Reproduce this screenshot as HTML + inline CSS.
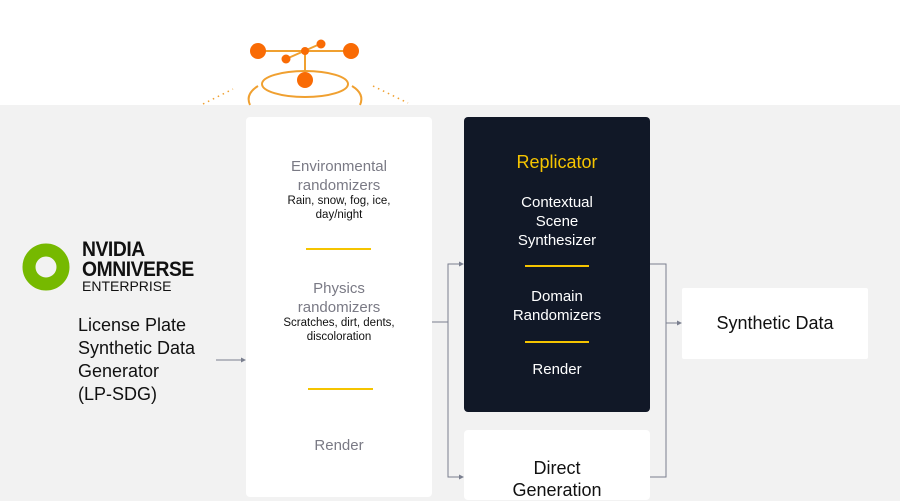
<!DOCTYPE html>
<html><head><meta charset="utf-8"><style>
body{margin:0;width:900px;height:491px;overflow:hidden;background:#f2f2f2;font-family:"Liberation Sans",sans-serif;position:relative}
.top{position:absolute;left:0;top:0;width:900px;height:105px;background:#fff}
.box{position:absolute;border-radius:4px;text-align:center}
.c{position:absolute;left:0;width:100%;text-align:center}
.y{position:absolute;height:3px;background:#f5c400}
</style></head><body>
<div class="top"></div>
<svg width="900" height="491" style="position:absolute;left:0;top:0">
<g stroke="#f0a030" stroke-width="2" fill="none">
<line x1="258" y1="51" x2="351" y2="51"/>
<line x1="286" y1="59" x2="320" y2="44"/>
<line x1="305" y1="51" x2="305" y2="72"/>
<ellipse cx="305" cy="84" rx="43" ry="13"/>
<path d="M258 86 Q245 94 250 105"/><path d="M352 86 Q365 94 360 105"/>
</g>
<g fill="#f96b05"><circle cx="258" cy="51" r="8"/><circle cx="351" cy="51" r="8"/><circle cx="321" cy="44" r="4.5"/><circle cx="286" cy="59" r="4.5"/><circle cx="305" cy="51" r="4"/><circle cx="305" cy="80" r="8"/></g>
<g stroke="#f0a030" stroke-width="1.5" stroke-dasharray="1.5 4"><line x1="203" y1="104" x2="233" y2="89"/><line x1="373" y1="86" x2="408" y2="103"/></g>
<g stroke="#7a7f8f" stroke-width="1" fill="none">
<line x1="216" y1="360" x2="244" y2="360"/>
<line x1="432" y1="322" x2="448" y2="322"/>
<polyline points="462,264 448,264 448,477 462,477"/>
<polyline points="650,264 666,264 666,477 650,477"/>
<line x1="666" y1="323" x2="680" y2="323"/>
</g>
<g fill="#7a7f8f"><path d="M246 360l-5-2.5v5z"/><path d="M464 264l-5-2.5v5z"/><path d="M464 477l-5-2.5v5z"/><path d="M682 323l-5-2.5v5z"/></g>
<circle cx="46" cy="267" r="17" fill="none" stroke="#76b900" stroke-width="13"/>
</svg>
<div style="position:absolute;left:82;left:82px;top:240px;font-weight:bold;font-size:21px;line-height:20px;color:#111;letter-spacing:-0.5px;transform:scaleX(0.92);transform-origin:left">NVIDIA<br>OMNIVERSE</div>
<div style="position:absolute;left:82px;top:278px;font-size:14px;color:#111">ENTERPRISE</div>
<div style="position:absolute;left:78px;top:314px;font-size:18px;line-height:23px;color:#111">License Plate<br>Synthetic Data<br>Generator<br>(LP-SDG)</div>
<div class="box" style="left:246px;top:117px;width:186px;height:380px;background:#fff">
<div class="c" style="top:40px;font-size:15px;line-height:19px;color:#7a7a85">Environmental<br>randomizers</div>
<div class="c" style="top:77px;font-size:11.5px;line-height:14px;color:#111">Rain, snow, fog, ice,<br>day/night</div>
<div class="y" style="left:60px;top:131px;width:65px;height:2px"></div>
<div class="c" style="top:162px;font-size:15px;line-height:19px;color:#7a7a85">Physics<br>randomizers</div>
<div class="c" style="top:199px;font-size:11.5px;line-height:14px;color:#111">Scratches, dirt, dents,<br>discoloration</div>
<div class="y" style="left:62px;top:271px;width:65px;height:2px"></div>
<div class="c" style="top:320px;font-size:15px;color:#7a7a85">Render</div>
</div>
<div class="box" style="left:464px;top:117px;width:186px;height:295px;background:#111827">
<div class="c" style="top:35px;font-size:18px;color:#f5c400">Replicator</div>
<div class="c" style="top:76px;font-size:15px;line-height:19px;color:#fff">Contextual<br>Scene<br>Synthesizer</div>
<div class="y" style="left:61px;top:148px;width:64px;height:2px"></div>
<div class="c" style="top:170px;font-size:15px;line-height:19px;color:#fff">Domain<br>Randomizers</div>
<div class="y" style="left:61px;top:224px;width:64px;height:2px"></div>
<div class="c" style="top:244px;font-size:15px;color:#fff">Render</div>
</div>
<div class="box" style="left:464px;top:430px;width:186px;height:70px;background:#fff">
<div class="c" style="top:27px;font-size:18px;line-height:22px;color:#111">Direct<br>Generation</div>
</div>
<div class="box" style="left:682px;top:288px;width:186px;height:71px;background:#fff;border-radius:2px">
<div class="c" style="top:25px;font-size:18px;color:#111">Synthetic Data</div>
</div>
</body></html>
